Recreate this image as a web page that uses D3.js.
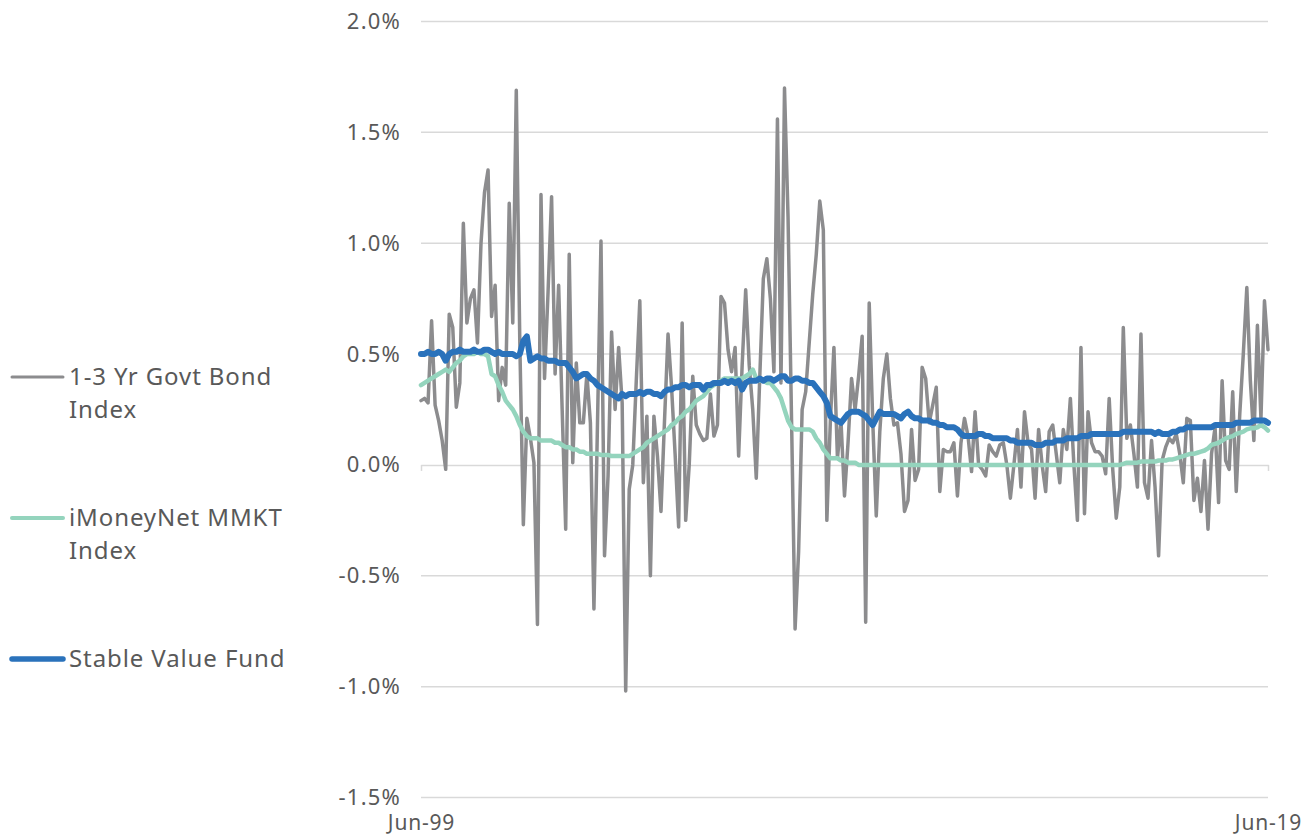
<!DOCTYPE html>
<html>
<head>
<meta charset="utf-8">
<script src="https://cdn.jsdelivr.net/npm/d3@7"></script>
<style>
  body { margin: 0; background: #fff; }
  text { font-family: "Noto Sans", "Open Sans", sans-serif; fill: #595959; }
</style>
</head>
<body>
<div id="chart"></div>
<script>
// monthly returns (%), Jun-99 .. Jun-19
var tickLabels = ["Jun-99", "Jun-19"];
var yTicks = [2.0, 1.5, 1.0, 0.5, 0.0, -0.5, -1.0, -1.5];
var seriesNames = ["1-3 Yr Govt Bond Index", "iMoneyNet MMKT Index", "Stable Value Fund"];

var govtBond = [
  0.29, 0.30, 0.28, 0.65, 0.27, 0.20, 0.11, -0.02, 0.68, 0.62,
  0.26, 0.37, 1.09, 0.64, 0.75, 0.79, 0.55, 1.00, 1.23, 1.33,
  0.67, 0.81, 0.29, 0.44, 0.36, 1.18, 0.64, 1.69, 0.55, -0.27,
  0.21, 0.12, 0.01, -0.72, 1.22, 0.39, 0.78, 1.21, 0.41, 0.81,
  0.25, -0.29, 0.95, 0.01, 0.46, 0.19, 0.19, 0.41, 0.19, -0.65,
  0.18, 1.01, -0.41, -0.05, 0.60, 0.25, 0.53, 0.28, -1.02, -0.11,
  0.00, 0.38, 0.74, -0.08, 0.22, -0.50, 0.22, 0.04, -0.21, 0.20,
  0.59, 0.35, 0.05, -0.28, 0.64, -0.25, 0.00, 0.40, 0.18, 0.14,
  0.11, 0.12, 0.32, 0.13, 0.18, 0.76, 0.73, 0.52, 0.42, 0.53,
  0.04, 0.45, 0.79, 0.45, 0.25, -0.06, 0.40, 0.84, 0.93, 0.75,
  0.42, 1.56, 0.37, 1.70, 1.12, 0.20, -0.74, -0.39, 0.25, 0.33,
  0.55, 0.77, 0.95, 1.19, 1.06, -0.25, 0.20, 0.53, 0.03, 0.20,
  -0.14, 0.10, 0.39, 0.25, 0.40, 0.58, -0.71, 0.73, 0.20, -0.23,
  0.15, 0.39, 0.50, 0.30, 0.18, 0.19, 0.05, -0.21, -0.16, 0.16,
  -0.07, -0.02, 0.44, 0.39, 0.19, 0.27, 0.35, -0.12, 0.07, 0.06,
  0.06, 0.10, -0.14, 0.10, 0.21, 0.13, -0.03, 0.24, 0.00, -0.02,
  -0.05, 0.09, 0.06, 0.04, 0.09, 0.10, 0.00, -0.15, 0.00, 0.16,
  -0.10, 0.24, 0.10, 0.07, -0.15, 0.16, 0.00, -0.12, 0.15, 0.18,
  0.05, -0.08, 0.16, 0.07, 0.30, 0.00, -0.25, 0.53, -0.22, 0.24,
  0.10, 0.06, 0.06, 0.04, -0.04, 0.30, -0.02, -0.24, -0.10, 0.62,
  0.12, 0.18, 0.05, -0.10, 0.59, -0.08, -0.15, 0.11, -0.10, -0.41,
  0.02, 0.08, 0.12, 0.10, 0.14, 0.05, -0.08, 0.21, 0.20, -0.16,
  -0.06, -0.21, 0.02, -0.29, 0.05, 0.17, -0.17, 0.38, 0.02, -0.02,
  0.33, -0.12, 0.23, 0.50, 0.80, 0.38, 0.11, 0.63, 0.21, 0.74,
  0.52
];

var moneyMkt = [
  0.36, 0.37, 0.38, 0.39, 0.40, 0.41, 0.42, 0.43, 0.42, 0.44,
  0.46, 0.47, 0.49, 0.50, 0.50, 0.50, 0.51, 0.50, 0.50, 0.49,
  0.41, 0.40, 0.36, 0.33, 0.29, 0.27, 0.25, 0.22, 0.18, 0.15,
  0.13, 0.12, 0.12, 0.12, 0.11, 0.11, 0.11, 0.11, 0.10, 0.10,
  0.09, 0.08, 0.08, 0.07, 0.07, 0.06, 0.06, 0.05, 0.05, 0.05,
  0.05, 0.045, 0.045, 0.045, 0.04, 0.04, 0.04, 0.04, 0.04, 0.04,
  0.05, 0.06, 0.07, 0.08, 0.10, 0.11, 0.12, 0.13, 0.14, 0.15,
  0.16, 0.18, 0.19, 0.21, 0.22, 0.24, 0.25, 0.27, 0.29, 0.30,
  0.31, 0.33, 0.35, 0.36, 0.37, 0.38, 0.39, 0.39, 0.39, 0.39,
  0.39, 0.39, 0.40, 0.41, 0.43, 0.39, 0.38, 0.38, 0.37, 0.37,
  0.35, 0.33, 0.30, 0.25, 0.20, 0.17, 0.16, 0.16, 0.16, 0.16,
  0.16, 0.15, 0.12, 0.10, 0.07, 0.05, 0.03, 0.03, 0.03, 0.02,
  0.02, 0.01, 0.01, 0.01, 0.00, 0.00, 0.00, 0.00, 0.00, 0.00,
  0.00, 0.00, 0.00, 0.00, 0.00, 0.00, 0.00, 0.00, 0.00, 0.00,
  0.00, 0.00, 0.00, 0.00, 0.00, 0.00, 0.00, 0.00, 0.00, 0.00,
  0.00, 0.00, 0.00, 0.00, 0.00, 0.00, 0.00, 0.00, 0.00, 0.00,
  0.00, 0.00, 0.00, 0.00, 0.00, 0.00, 0.00, 0.00, 0.00, 0.00,
  0.00, 0.00, 0.00, 0.00, 0.00, 0.00, 0.00, 0.00, 0.00, 0.00,
  0.00, 0.00, 0.00, 0.00, 0.00, 0.00, 0.00, 0.00, 0.00, 0.00,
  0.00, 0.00, 0.00, 0.00, 0.00, 0.00, 0.00, 0.00, 0.00, 0.005,
  0.01, 0.01, 0.01, 0.01, 0.015, 0.015, 0.015, 0.015, 0.015, 0.02,
  0.02, 0.02, 0.025, 0.025, 0.03, 0.035, 0.04, 0.045, 0.05, 0.05,
  0.055, 0.06, 0.065, 0.075, 0.09, 0.095, 0.10, 0.11, 0.12, 0.125,
  0.13, 0.14, 0.145, 0.15, 0.16, 0.165, 0.165, 0.17, 0.18, 0.17,
  0.155
];

var stableValue = [
  0.50, 0.50, 0.51, 0.50, 0.50, 0.51, 0.50, 0.47, 0.50, 0.51,
  0.51, 0.52, 0.51, 0.51, 0.51, 0.52, 0.51, 0.51, 0.52, 0.52,
  0.51, 0.50, 0.51, 0.50, 0.50, 0.50, 0.50, 0.49, 0.50, 0.56,
  0.58, 0.47, 0.48, 0.49, 0.48, 0.48, 0.47, 0.47, 0.47, 0.46,
  0.46, 0.46, 0.44, 0.42, 0.39, 0.40, 0.41, 0.41, 0.39, 0.38,
  0.36, 0.35, 0.34, 0.33, 0.32, 0.31, 0.30, 0.32, 0.31, 0.32,
  0.32, 0.32, 0.33, 0.32, 0.33, 0.33, 0.32, 0.32, 0.31, 0.33,
  0.34, 0.34, 0.35, 0.35, 0.36, 0.36, 0.35, 0.36, 0.36, 0.36,
  0.34, 0.36, 0.36, 0.37, 0.37, 0.37, 0.38, 0.37, 0.38, 0.37,
  0.38, 0.34, 0.37, 0.38, 0.38, 0.38, 0.39, 0.38, 0.39, 0.39,
  0.38, 0.39, 0.40, 0.40, 0.38, 0.38, 0.39, 0.39, 0.38, 0.38,
  0.37, 0.37, 0.35, 0.33, 0.31, 0.28, 0.22, 0.21, 0.20, 0.19,
  0.21, 0.23, 0.24, 0.24, 0.24, 0.23, 0.22, 0.20, 0.18, 0.21,
  0.24, 0.23, 0.23, 0.23, 0.23, 0.22, 0.21, 0.23, 0.24, 0.22,
  0.21, 0.21, 0.20, 0.20, 0.20, 0.19, 0.19, 0.18, 0.18, 0.17,
  0.17, 0.17, 0.16, 0.14, 0.13, 0.13, 0.13, 0.13, 0.14, 0.14,
  0.13, 0.13, 0.12, 0.12, 0.12, 0.12, 0.12, 0.11, 0.11, 0.10,
  0.10, 0.10, 0.10, 0.10, 0.09, 0.09, 0.09, 0.10, 0.10, 0.10,
  0.11, 0.11, 0.11, 0.12, 0.12, 0.12, 0.12, 0.13, 0.13, 0.13,
  0.14, 0.14, 0.14, 0.14, 0.14, 0.14, 0.14, 0.14, 0.14, 0.15,
  0.15, 0.15, 0.15, 0.15, 0.15, 0.15, 0.15, 0.15, 0.14, 0.15,
  0.14, 0.14, 0.14, 0.15, 0.15, 0.16, 0.16, 0.17, 0.17, 0.17,
  0.17, 0.17, 0.17, 0.17, 0.17, 0.18, 0.18, 0.18, 0.18, 0.18,
  0.18, 0.19, 0.19, 0.19, 0.19, 0.19, 0.20, 0.20, 0.20, 0.20,
  0.19
];

var colors = ["#8c8c8e", "#94d4bd", "#2a72bb"];
var widths = [3.5, 4.5, 6];

var svg = d3.select("#chart").append("svg")
    .attr("width", 1314)
    .attr("height", 838);

var x = d3.scaleLinear().domain([0, govtBond.length - 1]).range([421, 1268]);
var y = d3.scaleLinear().domain([-1.5, 2.0]).range([797.5, 21.5]);

// gridlines
svg.append("g").selectAll("line")
    .data(yTicks.filter(function(d) { return d !== 0; }))
    .enter().append("line")
    .attr("x1", x.range()[0])
    .attr("x2", x.range()[1])
    .attr("y1", function(d) { return y(d); })
    .attr("y2", function(d) { return y(d); })
    .attr("stroke", "#d9d9d9")
    .attr("stroke-width", 1.5);

// y labels
var yAxis = svg.append("g")
    .attr("transform", "translate(" + 401 + ",0)")
    .call(d3.axisLeft(y).tickValues(yTicks).tickSize(0).tickPadding(0)
        .tickFormat(function(d) { return d3.format(".1f")(d).replace("−", "-") + "%"; }));
yAxis.select(".domain").remove();
yAxis.selectAll("text")
    .style("font-size", "22px")
    .style("letter-spacing", "1.2px")
    .style("font-family", "'Noto Sans', sans-serif")
    .attr("fill", "#595959");

// zero line with end ticks
var zeroAxis = svg.append("g")
    .attr("transform", "translate(0," + y(0) + ")")
    .call(d3.axisBottom(x).tickValues([0, govtBond.length - 1]).tickSizeInner(6).tickSizeOuter(0).tickFormat(""));
zeroAxis.select(".domain").attr("stroke", "#d9d9d9").attr("stroke-width", 1.5);
zeroAxis.selectAll(".tick line").attr("stroke", "#d9d9d9").attr("stroke-width", 1.5);

// x labels
var xAxis = svg.append("g")
    .attr("transform", "translate(0," + 815 + ")")
    .call(d3.axisBottom(x).tickValues([0, govtBond.length - 1]).tickSize(0).tickPadding(0)
        .tickFormat(function(d, i) { return tickLabels[i]; }));
xAxis.select(".domain").remove();
xAxis.selectAll("text")
    .style("font-size", "21px")
    .style("letter-spacing", "0.8px")
    .style("font-family", "'Noto Sans', sans-serif")
    .attr("fill", "#595959");

// series lines
var line = d3.line()
    .x(function(d, i) { return x(i); })
    .y(function(d) { return y(d); });

[govtBond, moneyMkt, stableValue].forEach(function(s, k) {
  svg.append("path")
      .datum(s)
      .attr("d", line)
      .attr("fill", "none")
      .attr("stroke", colors[k])
      .attr("stroke-width", widths[k])
      .attr("stroke-linejoin", "round")
      .attr("stroke-linecap", "round");
});

// legend
var legendRows = [
  { lines: ["1-3 Yr Govt Bond", "Index"], y: 377 },
  { lines: ["iMoneyNet MMKT", "Index"], y: 518 },
  { lines: ["Stable Value Fund"], y: 659 }
];
var legend = svg.append("g");
legendRows.forEach(function(r, k) {
  legend.append("line")
      .attr("x1", 12).attr("x2", 63)
      .attr("y1", r.y).attr("y2", r.y)
      .attr("stroke", colors[k])
      .attr("stroke-width", widths[k] - 0.5)
      .attr("stroke-linecap", "round");
  var t = legend.append("text")
      .attr("x", 69)
      .attr("y", r.y + 8)
      .style("font-size", "24px")
      .style("letter-spacing", "0.9px");
  r.lines.forEach(function(l, j) {
    t.append("tspan").attr("x", 69).attr("dy", j === 0 ? 0 : 32.5).text(l);
  });
});
</script>
</body>
</html>
